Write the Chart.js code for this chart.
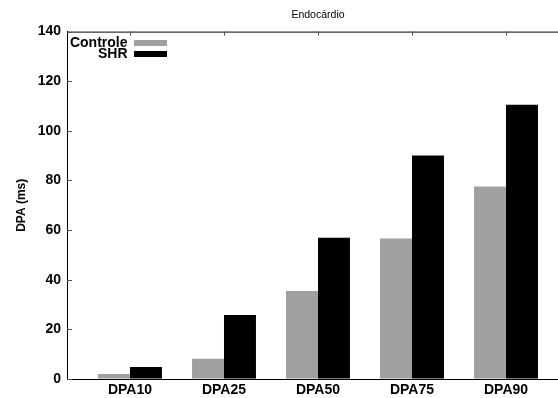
<!DOCTYPE html>
<html>
<head>
<meta charset="utf-8">
<script src="https://cdn.jsdelivr.net/npm/chart.js@4.4.0/dist/chart.umd.min.js"></script>
<style>
html, body { margin: 0; padding: 0; background: #fff; overflow: hidden; }
#wrap { width: 570px; height: 398px; }
</style>
</head>
<body>
<div id="wrap"><canvas id="barChart" width="570" height="398"></canvas></div>
<script>
// values
const categories = ["DPA10", "DPA25", "DPA50", "DPA75", "DPA90"];
const controle = [2.0, 8.2, 35.5, 56.6, 77.6];
const shr = [4.8, 25.8, 56.9, 90.1, 110.5];
const series_names = ["Controle", "SHR"];
const series_colors = ["rgb(160, 160, 160)", "rgb(0, 0, 0)"];
const y_ticks = [0, 20, 40, 60, 80, 100, 120, 140];

const FONT = "'Liberation Sans', Arial, Helvetica, sans-serif";

function toPoints(values) {
    return values.map((v, i) => ({ x: i + 1, y: v }));
}

// legend drawn inside the plot, text right-aligned left of the swatch
const insideLegend = {
    id: 'insideLegend',
    afterDatasetsDraw(chart) {
        const ctx = chart.ctx;
        ctx.save();
        ctx.font = "bold 14px " + FONT;
        ctx.textAlign = 'right';
        ctx.textBaseline = 'middle';
        chart.data.datasets.forEach((ds, i) => {
            const cy = 43 + i * 11;
            ctx.fillStyle = '#000';
            ctx.fillText(ds.label, 127.5, cy);
            ctx.fillStyle = ds.backgroundColor;
            ctx.fillRect(134, cy - 3, 33, 6);
        });
        ctx.restore();
    }
};

// top border and inward tick marks like the original plot
const frame = {
    id: 'frame',
    afterDraw(chart) {
        const ctx = chart.ctx;
        const area = chart.chartArea;
        const xs = chart.scales.x;
        const ys = chart.scales.y;
        ctx.save();
        ctx.strokeStyle = '#000';
        ctx.lineWidth = 1;
        ctx.beginPath();
        ctx.moveTo(area.left, area.top + 0.5);
        ctx.lineTo(area.right, area.top + 0.5);
        ctx.stroke();
        ctx.strokeStyle = '#555';
        ctx.beginPath();
        xs.ticks.forEach(t => {
            const px = Math.round(xs.getPixelForValue(t.value)) + 0.5;
            ctx.moveTo(px, area.top);
            ctx.lineTo(px, area.top + 4);
        });
        ys.ticks.forEach(t => {
            const py = Math.round(ys.getPixelForValue(t.value)) + 0.5;
            ctx.moveTo(area.left, py);
            ctx.lineTo(area.left + 5, py);
        });
        ctx.stroke();
        ctx.restore();
    }
};

const data = {
    datasets: [
        {
            label: series_names[0],
            data: toPoints(controle),
            backgroundColor: series_colors[0],
            borderWidth: 0
        },
        {
            label: series_names[1],
            data: toPoints(shr),
            backgroundColor: series_colors[1],
            borderWidth: 0
        }
    ]
};

const config = {
    type: 'bar',
    data: data,
    options: {
        responsive: false,
        animation: false,
        devicePixelRatio: 1,
        categoryPercentage: 0.68,
        barPercentage: 1.0,
        layout: { padding: { left: 0, right: 1, top: 0, bottom: 0 } },
        plugins: {
            legend: { display: false },
            tooltip: { enabled: false },
            title: {
                display: true,
                text: 'Endocárdio',
                fullSize: false,
                color: '#000',
                font: { family: FONT, size: 10.5, weight: 'normal' },
                padding: { top: 9, bottom: 10 }
            }
        },
        scales: {
            x: {
                type: 'linear',
                offset: false,
                min: 0.33,
                max: 5.67,
                afterBuildTicks: (s) => {
                    s.ticks = categories.map((c, i) => ({ value: i + 1 }));
                },
                afterFit: (s) => { s.height = 19; },
                grid: { drawOnChartArea: false, drawTicks: false },
                border: { display: true, color: '#000', width: 1 },
                ticks: {
                    color: '#000',
                    padding: 3,
                    maxRotation: 0,
                    autoSkip: false,
                    font: { family: FONT, size: 14, weight: 'bold' },
                    callback: (v) => categories[v - 1] || ''
                }
            },
            y: {
                min: 0,
                max: 140,
                afterBuildTicks: (s) => {
                    s.ticks = y_ticks.map(v => ({ value: v }));
                },
                afterFit: (s) => { s.width = 67; },
                grid: { drawOnChartArea: false, drawTicks: false },
                border: { display: true, color: '#000', width: 1 },
                ticks: {
                    color: '#000',
                    padding: 6,
                    font: { family: FONT, size: 14, weight: 'bold' }
                },
                title: {
                    display: true,
                    text: 'DPA (ms)',
                    color: '#000',
                    font: { family: FONT, size: 12, weight: 'bold' },
                    padding: { top: 14, bottom: 0 }
                }
            }
        }
    },
    plugins: [insideLegend, frame]
};

const barChart = new Chart(document.getElementById('barChart').getContext('2d'), config);
</script>
</body>
</html>
